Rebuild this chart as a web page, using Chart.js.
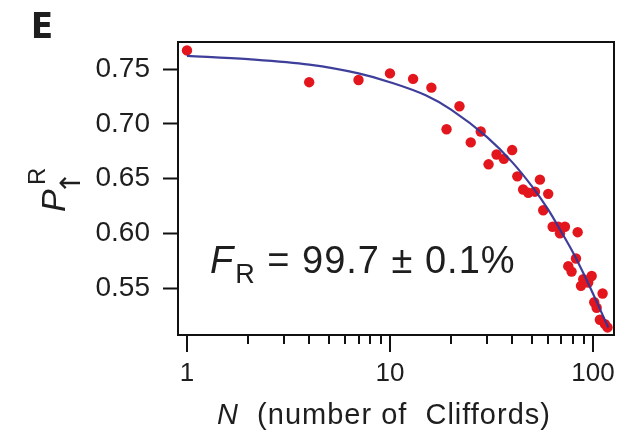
<!DOCTYPE html>
<html><head><meta charset="utf-8">
<script src="https://cdn.jsdelivr.net/npm/chart.js@4/dist/chart.umd.min.js"></script>
<style>html,body{margin:0;padding:0;background:#fff}canvas{display:block}</style>
</head><body>
<canvas id="c" width="623" height="436"></canvas>
<script>
// ---- data ----
const cliffordN = [1, 4, 7, 10, 13, 16, 19, 22, 25, 28, 30.6, 33.5, 36.4, 40, 42.4, 45.3, 48, 51.8, 54.8, 56.9, 60.2, 63.3, 67.5, 68.8, 72.8, 75.6, 78.5, 82.5, 84.1, 87.3, 89.6, 94.8, 98.6, 101.5, 104.3, 108.2, 111.6, 114.6, 118];
const probR = [0.767, 0.738, 0.740, 0.746, 0.741, 0.733, 0.695, 0.716, 0.683, 0.693, 0.663, 0.672, 0.668, 0.676, 0.652, 0.640, 0.637, 0.638, 0.649, 0.621, 0.636, 0.606, 0.606, 0.600, 0.606, 0.570, 0.565, 0.577, 0.601, 0.552, 0.558, 0.555, 0.561, 0.537, 0.532, 0.521, 0.545, 0.517, 0.514];
const fitN = [1, 2, 4, 7, 10, 15, 20, 30, 40, 50, 60, 70, 80, 90, 100, 110, 119];
const fitP = [0.762, 0.759, 0.754, 0.746, 0.738, 0.726, 0.713, 0.688, 0.665, 0.643, 0.622, 0.601, 0.582, 0.563, 0.545, 0.528, 0.514];
const xTickValues = [1, 2, 3, 4, 5, 6, 7, 8, 9, 10, 20, 30, 40, 50, 60, 70, 80, 90, 100];
const xMajorTicks = [1, 10, 100];
const yTickValues = [0.55, 0.60, 0.65, 0.70, 0.75];
const panelLabel = 'E';
const xTitleVar = 'N';
const xTitleRest = '  (number of  Cliffords)';
const yTitleVar = 'P';
const yTitleSup = 'R';
const yTitleSub = '\u2191';
const fidVar = 'F';
const fidSub = 'R';
const fidRest = ' = 99.7 \u00b1 0.1%';

const FONT = '"Liberation Sans", Arial, Helvetica, sans-serif';
const TXT = '#1e1e1e';

const decorPlugin = {
  id: 'decor',
  afterDraw(chart) {
    const { ctx, chartArea: a, scales } = chart;
    ctx.save();
    // frame
    ctx.strokeStyle = '#111';
    ctx.lineWidth = 2;
    ctx.strokeRect(a.left, a.top, a.right - a.left, a.bottom - a.top);
    // x tick marks (major longer, minor shorter)
    const xs = scales.x;
    xTickValues.forEach(v => {
      const px = Math.round(xs.getPixelForValue(v));
      const len = xMajorTicks.includes(v) ? 17 : 9;
      ctx.beginPath();
      ctx.moveTo(px, a.bottom);
      ctx.lineTo(px, a.bottom + len);
      ctx.stroke();
    });
    ctx.fillStyle = TXT;
    ctx.textBaseline = 'alphabetic';
    // x title
    ctx.letterSpacing = '1px';
    ctx.font = 'italic 29px ' + FONT;
    const w1 = ctx.measureText(xTitleVar).width;
    ctx.font = '29px ' + FONT;
    const w2 = ctx.measureText(xTitleRest).width;
    let sx = 384 - (w1 + w2) / 2;
    ctx.font = 'italic 29px ' + FONT;
    ctx.fillText(xTitleVar, sx, 424);
    ctx.font = '29px ' + FONT;
    ctx.fillText(xTitleRest, sx + w1, 424);
    ctx.letterSpacing = '0px';
    // panel label
    ctx.font = 'bold 36px "Liberation Sans Narrow", "DejaVu Sans Condensed", ' + FONT;
    ctx.fillText(panelLabel, 31, 38);
    // fidelity annotation
    let fx = 210;
    ctx.letterSpacing = '1px';
    ctx.font = 'italic 38px ' + FONT;
    ctx.fillText(fidVar, fx, 273);
    fx += ctx.measureText(fidVar).width + 1;
    ctx.font = '27px ' + FONT;
    ctx.fillText(fidSub, fx, 283);
    fx += ctx.measureText(fidSub).width;
    ctx.font = '38px ' + FONT;
    ctx.fillText(fidRest, fx, 273);
    ctx.letterSpacing = '0px';
    // y title (rotated)
    ctx.save();
    ctx.translate(65, 212);
    ctx.rotate(-Math.PI / 2);
    ctx.font = 'italic 34px ' + FONT;
    ctx.fillText(yTitleVar, 0, 0);
    ctx.font = '24px ' + FONT;
    ctx.fillText(yTitleSup, 27, -20);
    ctx.font = '28px "DejaVu Sans", ' + FONT;
    ctx.textAlign = 'center';
    ctx.fillText(yTitleSub, 29, 15);
    ctx.restore();
    ctx.restore();
  }
};

new Chart(document.getElementById('c'), {
  data: {
    datasets: [
      {
        type: 'line',
        data: fitN.map((n, i) => ({ x: n, y: fitP[i] })),
        borderColor: 'rgba(52,52,150,0.95)',
        borderWidth: 2.2,
        pointRadius: 0,
        cubicInterpolationMode: 'monotone',
        fill: false
      },
      {
        type: 'scatter',
        data: cliffordN.map((n, i) => ({ x: n, y: probR[i] })),
        backgroundColor: '#e4161d',
        borderWidth: 0,
        pointRadius: 5.2
      }
    ]
  },
  options: {
    responsive: false,
    animation: false,
    devicePixelRatio: 1,
    layout: { padding: { top: 42, right: 9, left: 0, bottom: 0 } },
    plugins: { legend: { display: false }, tooltip: { enabled: false } },
    scales: {
      x: {
        type: 'logarithmic',
        position: 'bottom',
        min: 0.903,
        max: 127,
        afterBuildTicks: s => { s.ticks = xTickValues.map(v => ({ value: v })); },
        afterFit: s => { s.height = 101; },
        grid: { display: true, drawOnChartArea: false, drawTicks: true, tickLength: 17, tickColor: 'rgba(0,0,0,0)' },
        border: { display: false },
        ticks: {
          autoSkip: false, maxRotation: 0, minRotation: 0, padding: 6,
          color: TXT, font: { family: FONT, size: 26 },
          callback: v => (xMajorTicks.includes(v) ? String(v) : '')
        }
      },
      y: {
        type: 'linear',
        min: 0.5071,
        max: 0.7747,
        afterBuildTicks: s => { s.ticks = yTickValues.map(v => ({ value: v })); },
        afterFit: s => { s.width = 178; },
        grid: { display: true, drawOnChartArea: false, drawTicks: true, tickLength: 15, tickWidth: 2, tickColor: '#111' },
        border: { display: false },
        ticks: {
          padding: 13, color: TXT, font: { family: FONT, size: 28 },
          callback: v => v.toFixed(2)
        }
      }
    }
  },
  plugins: [decorPlugin]
});
</script>
</body></html>
